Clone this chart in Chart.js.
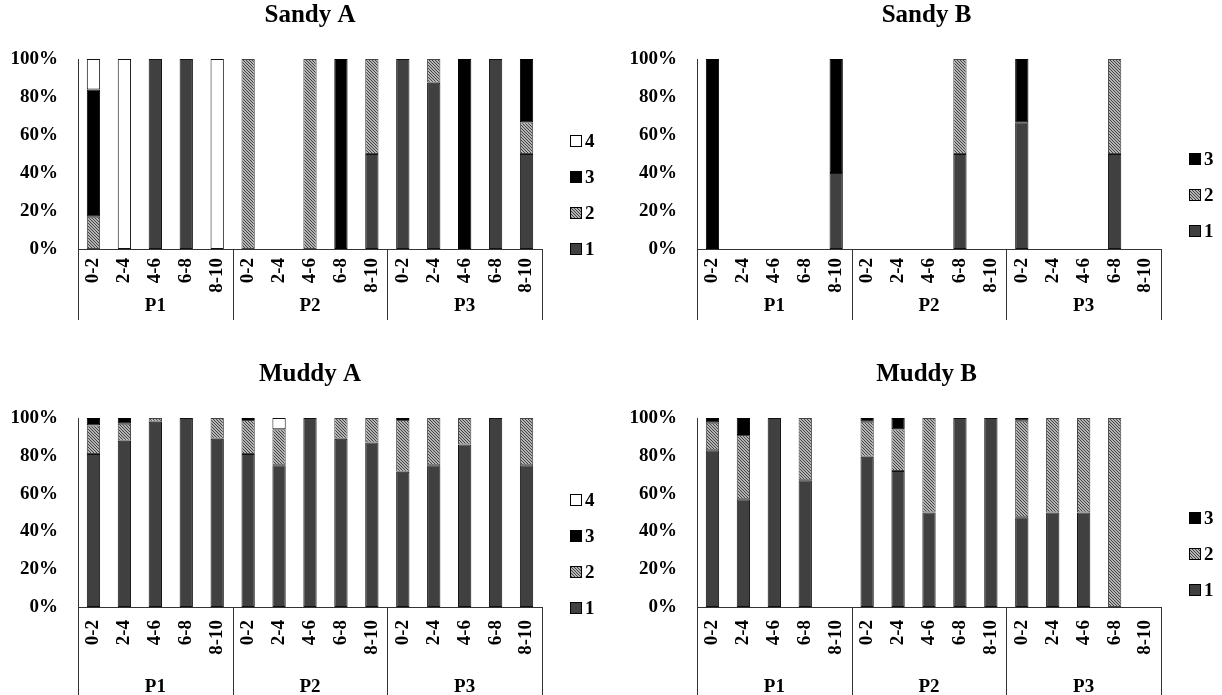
<!DOCTYPE html>
<html>
<head>
<meta charset="utf-8">
<script src="https://cdn.jsdelivr.net/npm/chart.js@4.4.1/dist/chart.umd.min.js"></script>
<style>
  html, body { margin: 0; background: #fff; overflow: hidden; }
  canvas { position: absolute; }
</style>
</head>
<body>
<canvas id="sandyA" width="620" height="320" style="left:0;top:0"></canvas>
<canvas id="sandyB" width="592" height="320" style="left:630px;top:0"></canvas>
<canvas id="muddyA" width="620" height="341" style="left:0;top:359px"></canvas>
<canvas id="muddyB" width="592" height="341" style="left:630px;top:359px"></canvas>
<script>
const depths = ['0-2', '2-4', '4-6', '6-8', '8-10'];
const sites = ['P1', 'P2', 'P3'];
const classes = ['1', '2', '3', '4'];

// % of each class per depth, P1 | P2 | P3
const sandyA1 = [0, 0, 100, 100, 0,   0, 0, 0, 0, 50,     100, 87.5, 0, 100, 50];
const sandyA2 = [17, 0, 0, 0, 0,      100, 0, 100, 0, 50, 0, 12.5, 0, 0, 16.7];
const sandyA3 = [67, 0, 0, 0, 0,      0, 0, 0, 100, 0,    0, 0, 100, 0, 33.3];
const sandyA4 = [16, 100, 0, 0, 100,  0, 0, 0, 0, 0,      0, 0, 0, 0, 0];

const sandyB1 = [0, 0, 0, 0, 40,      0, 0, 0, 50, 0,     66.7, 0, 0, 50, 0];
const sandyB2 = [0, 0, 0, 0, 0,       0, 0, 0, 50, 0,     0, 0, 0, 50, 0];
const sandyB3 = [100, 0, 0, 0, 60,    0, 0, 0, 0, 0,      33.3, 0, 0, 0, 0];

const muddyA1 = [81, 88, 98, 100, 89, 81, 75, 100, 89, 87, 71.5, 75, 86, 100, 75];
const muddyA2 = [15, 9, 2, 0, 11,     18, 19, 0, 11, 13,  27.5, 25, 14, 0, 25];
const muddyA3 = [4, 3, 0, 0, 0,       1, 0, 0, 0, 0,      1, 0, 0, 0, 0];
const muddyA4 = [0, 0, 0, 0, 0,       0, 6, 0, 0, 0,      0, 0, 0, 0, 0];

const muddyB1 = [83, 57, 100, 67, 0,  79.5, 72, 50, 100, 100, 47.5, 50, 50, 0, 0];
const muddyB2 = [14.5, 34, 0, 33, 0,  18.5, 22, 50, 0, 0,     51, 50, 50, 100, 0];
const muddyB3 = [2.5, 9, 0, 0, 0,     2, 6, 0, 0, 0,          1.5, 0, 0, 0, 0];

const yTicks = [0, 20, 40, 60, 80, 100];

const serif = "'Liberation Serif', 'Times New Roman', serif";

function hatch() {
  const c = document.createElement('canvas');
  c.width = c.height = 3;
  const g = c.getContext('2d');
  g.fillStyle = '#b4b4b4';
  g.fillRect(0, 0, 3, 3);
  for (let i = 0; i < 3; i++) {
    g.fillStyle = '#424242';
    g.fillRect(i, i, 1, 1);
  }
  return g.createPattern(c, 'repeat');
}

const fills = ['#404040', hatch(), '#000000', '#ffffff'];
const borders = ['#111', '#444', '#000', '#111'];

// vertical dividers of the two-level category axis
const groupLines = {
  id: 'groupLines',
  afterDraw(chart) {
    const { ctx, chartArea, scales: { x } } = chart;
    const n = depths.length;
    ctx.save();
    ctx.strokeStyle = '#333';
    ctx.lineWidth = 1;
    ctx.beginPath();
    for (let g = 0; g <= sites.length; g++) {
      let px;
      if (g === 0) px = chartArea.left;
      else if (g === sites.length) px = chartArea.right;
      else px = (x.getPixelForValue(g * n - 1) + x.getPixelForValue(g * n)) / 2;
      px = Math.round(px) + 0.5;
      ctx.moveTo(px, chartArea.bottom);
      ctx.lineTo(px, chart.height);
    }
    ctx.stroke();
    ctx.restore();
  }
};

// legend on the right, highest class on top
const sideLegend = {
  id: 'sideLegend',
  afterDraw(chart) {
    const { ctx, chartArea } = chart;
    const sets = chart.data.datasets.slice().reverse();
    const step = 36;
    const x0 = chartArea.right + 28;
    let y = chartArea.top + 136 - step * (sets.length - 1) / 2;
    ctx.save();
    ctx.font = 'bold 19px ' + serif;
    ctx.textBaseline = 'middle';
    sets.forEach(ds => {
      ctx.fillStyle = ds.backgroundColor;
      ctx.fillRect(x0, y - 6, 12, 12);
      ctx.strokeStyle = '#000';
      ctx.lineWidth = 1;
      ctx.strokeRect(x0 + 0.5, y - 5.5, 11, 11);
      ctx.fillStyle = '#000';
      ctx.fillText(ds.label, x0 + 15, y + 1);
      y += step;
    });
    ctx.restore();
  }
};

function makeChart(id, title, series, o) {
  const labels = [];
  sites.forEach(() => depths.forEach(d => labels.push(d)));
  return new Chart(document.getElementById(id), {
    type: 'bar',
    data: {
      labels: labels,
      datasets: series.map((vals, i) => ({
        label: classes[i],
        data: vals.map(v => v || null),
        backgroundColor: fills[i],
        borderColor: borders[i],
        borderWidth: 1,
        borderSkipped: false,
        categoryPercentage: 1,
        barPercentage: 0.43
      }))
    },
    options: {
      responsive: false,
      animation: false,
      layout: { padding: { left: o.padL, right: o.padR, top: 0, bottom: 0 } },
      plugins: {
        legend: { display: false },
        tooltip: { enabled: false },
        title: {
          display: true,
          text: title,
          color: '#000',
          font: { family: serif, size: 25, weight: 'bold' },
          padding: { top: 1, bottom: 28 }
        }
      },
      scales: {
        x: {
          stacked: true,
          grid: { display: false, drawTicks: false },
          border: { display: true, color: '#333' },
          afterFit: s => { s.height = o.xH; },
          ticks: {
            autoSkip: false,
            minRotation: 90,
            maxRotation: 90,
            padding: o.xPad,
            color: '#000',
            font: { family: serif, size: 19, weight: 'bold' }
          }
        },
        groups: {
          type: 'category',
          labels: sites,
          position: 'bottom',
          offset: true,
          grid: { display: false, drawTicks: false },
          border: { display: false },
          afterFit: s => { s.height = o.groupH; },
          ticks: {
            padding: o.groupPad,
            color: '#000',
            font: { family: serif, size: 19, weight: 'bold', lineHeight: 1 }
          }
        },
        y: {
          stacked: true,
          min: 0,
          max: 100,
          afterBuildTicks: s => { s.ticks = yTicks.map(v => ({ value: v })); },
          afterFit: s => { s.width = 66; },
          grid: { display: false, drawTicks: false },
          border: { display: true, color: '#333' },
          ticks: {
            padding: 20,
            color: '#000',
            font: { family: serif, size: 19, weight: 'bold' },
            callback: v => v + '%'
          }
        },
        // empty space kept for the legend
        room: {
          type: 'linear',
          position: 'right',
          grid: { display: false, drawTicks: false },
          border: { display: false },
          ticks: { display: false },
          afterFit: s => { s.width = o.room; }
        }
      }
    },
    plugins: [groupLines, sideLegend]
  });
}

makeChart('sandyA', 'Sandy A', [sandyA1, sandyA2, sandyA3, sandyA4],
  { padL: 12, padR: 12, room: 66, xH: 48, xPad: 9, groupH: 23, groupPad: 0 });
makeChart('sandyB', 'Sandy B', [sandyB1, sandyB2, sandyB3],
  { padL: 1, padR: 0, room: 61, xH: 48, xPad: 9, groupH: 23, groupPad: 0 });
makeChart('muddyA', 'Muddy A', [muddyA1, muddyA2, muddyA3, muddyA4],
  { padL: 12, padR: 12, room: 66, xH: 58, xPad: 13, groupH: 35, groupPad: 13 });
makeChart('muddyB', 'Muddy B', [muddyB1, muddyB2, muddyB3],
  { padL: 1, padR: 0, room: 61, xH: 58, xPad: 13, groupH: 35, groupPad: 13 });
</script>
</body>
</html>
